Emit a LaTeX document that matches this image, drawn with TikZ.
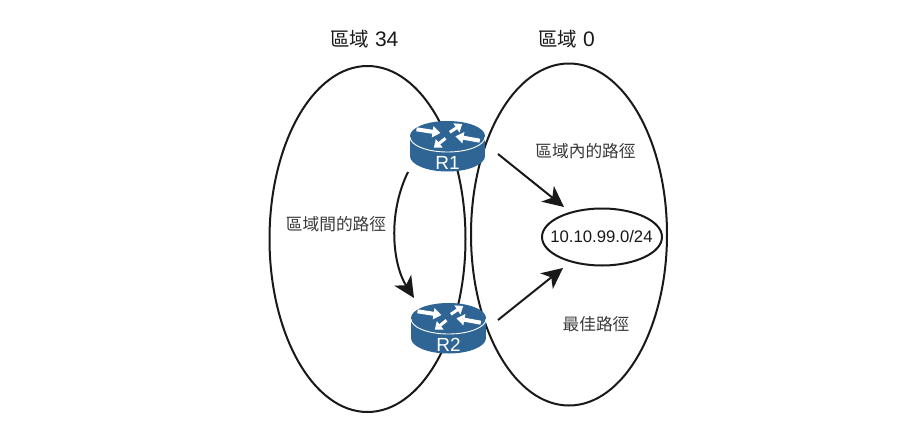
\documentclass[tikz,border=0pt]{standalone}
\usepackage{fontspec}
\setmainfont{Liberation Sans}
\newfontfamily\cjkfont{Noto Sans CJK TC}
\usetikzlibrary{arrows.meta,shapes.geometric}
\definecolor{routerblue}{HTML}{2E6594}
\definecolor{txtgray}{HTML}{3A3A3A}
\tikzset{
  x=1pt,y=-1pt,
  area/.style={draw=black!90,line width=2pt,ellipse,inner sep=0pt,outer sep=0pt},
  conn/.style={draw=black!90,line width=2pt,-{Stealth[length=21pt,width=20pt,inset=6pt]}},
  cjklabel/.style={font=\cjkfont\fontsize{16.7}{18}\selectfont,text=txtgray,inner sep=0pt},
  titlelabel/.style={font=\fontsize{21}{22}\selectfont,text=black!90,inner sep=0pt},
  wa/.style={draw=white,line width=4pt,-{Triangle[length=8pt,width=11pt]}},
  wb/.style={draw=white,line width=3pt,-{Triangle[length=7pt,width=10.5pt]}},
  pics/router/.style={code={
    \fill[routerblue] (-37.5,0) rectangle (37.5,20);
    \fill[routerblue] (0,20) ellipse[x radius=37.5,y radius=15.5];
    \fill[routerblue] (0,0) ellipse[x radius=37.5,y radius=15];
    \draw[white,line width=0.9pt] (-37.5,1) arc[x radius=37.5,y radius=15,start angle=180,end angle=0];
    \draw[wa] (-31,-6.7) -- (-7,-3);
    \draw[wb] (2.3,-3.7) -- (14.7,-12);
    \draw[wa] (32.3,4.7) -- (8,0.3);
    \draw[wb] (-2,2.3) -- (-13.7,11.7);
  }}
}
\begin{document}
\begin{tikzpicture}
\useasboundingbox[fill=white] (0,0) rectangle (898,442);
\node[area,minimum width=196pt,minimum height=346pt] (a34) at (367.5,239) {};
\node[area,minimum width=196pt,minimum height=342pt] (a0) at (569,234.5) {};
\node[area,minimum width=120pt,minimum height=57pt] (net) at (602,237) {};
\node[inner sep=0pt,font=\fontsize{16.7}{18}\selectfont,text=black!90] (netlabel) at (601.5,236.5) {10.10.99.0/24};
\pic at (447.5,136) {router};
\pic at (448.5,318) {router};
\node[inner sep=0pt,font=\fontsize{19}{20}\selectfont,text=white] (R1) at (447.5,162.5) {R1};
\node[inner sep=0pt,font=\fontsize{19}{20}\selectfont,text=white] (R2) at (448.5,344.5) {R2};
\node[titlelabel,anchor=west] (t34) at (330,39) {{\cjkfont\fontsize{19.5}{22}\selectfont 區域} 34};
\node[titlelabel,anchor=west] (t0) at (538,39) {{\cjkfont\fontsize{19.5}{22}\selectfont 區域} 0};
\node[cjklabel] (intra) at (585.5,151) {區域內的路徑};
\node[cjklabel] (inter) at (336,224) {區域間的路徑};
\node[cjklabel] (best) at (596,324) {最佳路徑};
\coordinate (s1) at (498,154);
\coordinate (e1) at (564,207);
\coordinate (s2) at (498,320);
\coordinate (e2) at (563,268);
\coordinate (s3) at (408,172);
\coordinate (e3) at (414,298);
\draw[conn] (s1) -- (e1);
\draw[conn] (s2) -- (e2);
\draw[conn] (s3) .. controls (387,215) and (393,265) .. (e3);
\end{tikzpicture}
\end{document}
